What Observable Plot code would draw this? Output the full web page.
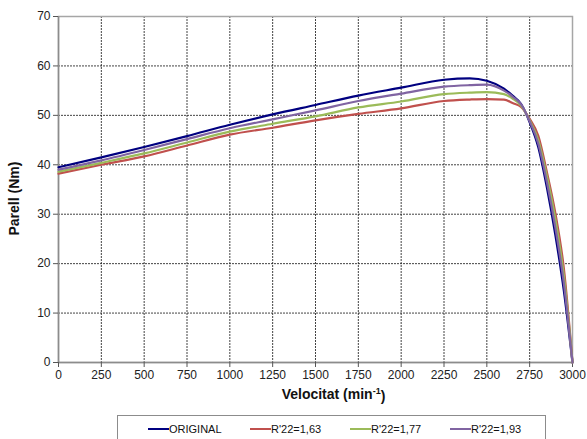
<!DOCTYPE html>
<html>
<head>
<meta charset="utf-8">
<script src="https://cdn.jsdelivr.net/npm/d3@7"></script>
<script src="https://cdn.jsdelivr.net/npm/@observablehq/plot@0.6"></script>
<style>
  html, body { margin: 0; padding: 0; background: #fff; }
  #wrap { position: relative; width: 587px; height: 439px; overflow: hidden; font-family: "Liberation Sans", Arial, sans-serif; }
  #legend { position: absolute; left: 117px; top: 415px; width: 429px; height: 34px; border: 1px solid #8c8c8c; box-sizing: border-box; background: #fff; }
  .item { position: absolute; top: 6px; display: flex; align-items: center; font-size: 11px; color: #111; height: 14px; }
  .sw { width: 21px; height: 2.2px; margin-right: 0; }
</style>
</head>
<body>
<div id="wrap">
  <div id="chart"></div>
  <div id="legend"></div>
</div>
<script>
// Motor speed (min^-1) and torque (Nm) for each rotor resistance value
const speed    = [0, 250, 500, 750, 1000, 1250, 1500, 1750, 2000, 2250, 2400, 2500, 2600, 2650, 2700, 2750, 2800, 2850, 2900, 2950, 3000];
const original = [39.5, 41.5, 43.6, 45.8, 48.1, 50.2, 52.1, 54.0, 55.6, 57.2, 57.5, 57.0, 55.4, 54.0, 52.3, 48.6, 43.6, 35.5, 25.8, 14.4, 0];
const r163     = [38.2, 40.0, 41.7, 43.9, 46.1, 47.5, 49.0, 50.3, 51.4, 52.9, 53.2, 53.3, 53.2, 52.5, 51.7, 49.3, 45.9, 38.6, 30.2, 18.9, 0];
const r177     = [38.6, 40.4, 42.3, 44.5, 46.7, 48.3, 49.8, 51.6, 52.8, 54.3, 54.6, 54.7, 54.3, 53.4, 52.0, 49.0, 45.0, 37.8, 29.0, 17.4, 0];
const r193     = [39.0, 40.9, 43.0, 45.2, 47.4, 49.2, 51.0, 52.9, 54.4, 55.8, 56.1, 56.2, 55.0, 53.8, 52.2, 48.8, 44.3, 36.6, 27.3, 15.9, 0];

const seriesNames = ["ORIGINAL", "R'22=1,63", "R'22=1,77", "R'22=1,93"];
const seriesValues = [original, r163, r177, r193];
const seriesColors = ["#000080", "#C0504D", "#9BBB59", "#8064A2"];

const xTicks = d3.range(0, 3001, 250);
const yTicks = d3.range(0, 71, 10);

const rows = seriesNames.flatMap((name, i) =>
  speed.map((s, j) => ({ series: name, speed: s, torque: seriesValues[i][j] }))
);

const chart = Plot.plot({
  width: 587,
  height: 410,
  marginLeft: 58,
  marginRight: 15,
  marginTop: 16,
  marginBottom: 48,
  style: { fontFamily: "'Liberation Sans', Arial, sans-serif", fontSize: "12px", color: "#222", background: "#fff" },
  x: { domain: [0, 3000], ticks: xTicks },
  y: { domain: [0, 70], ticks: yTicks },
  color: { domain: seriesNames, range: seriesColors },
  marks: [
    Plot.gridX(xTicks, { stroke: "#222", strokeOpacity: 0.85, strokeDasharray: "2,1" }),
    Plot.gridY(yTicks, { stroke: "#222", strokeOpacity: 0.85, strokeDasharray: "2,1" }),
    Plot.frame({ stroke: "#a6a6a6", strokeWidth: 1.5 }),
    Plot.ruleX([0], { stroke: "#8c8c8c", strokeWidth: 1.5 }),
    Plot.ruleY([0], { stroke: "#8c8c8c", strokeWidth: 1.5 }),
    Plot.axisX({ ticks: xTicks, tickFormat: d => String(d), tickSize: 5, tickPadding: 3, label: null, stroke: "#555" }),
    Plot.axisY({ ticks: yTicks, tickFormat: d => String(d), tickSize: 5, tickPadding: 3, label: null, stroke: "#555" }),
    Plot.line(rows, { x: "speed", y: "torque", stroke: "series", strokeWidth: 2.2, curve: "monotone-x" }),
    Plot.text(["Velocitat (min-1)"], { frameAnchor: "bottom", dx: 18, dy: 36, fontWeight: "bold", fontSize: 14, fill: "#111" }),
    Plot.text(["Parell (Nm)"], { frameAnchor: "left", dx: -44, dy: 46, rotate: -90, fontWeight: "bold", fontSize: 14, fill: "#111" })
  ]
});
document.getElementById("chart").appendChild(chart);

// Render the "-1" exponent of the x-axis title as a superscript
d3.select(chart).selectAll("text").filter(function () { return this.textContent === "Velocitat (min-1)"; })
  .each(function () {
    const t = d3.select(this);
    t.text(null);
    t.append("tspan").text("Velocitat (min");
    t.append("tspan").attr("dy", "-0.45em").attr("font-size", 9).text("-1");
    t.append("tspan").attr("dy", "0.45em").text(")");
  });

// Legend below the chart
const legend = document.getElementById("legend");
const offsets = [30, 132, 232, 332];
seriesNames.forEach((name, i) => {
  const item = document.createElement("div");
  item.className = "item";
  item.style.left = offsets[i] + "px";
  const sw = document.createElement("span");
  sw.className = "sw";
  sw.style.background = seriesColors[i];
  const label = document.createElement("span");
  label.textContent = name;
  item.appendChild(sw);
  item.appendChild(label);
  legend.appendChild(item);
});
</script>
</body>
</html>
